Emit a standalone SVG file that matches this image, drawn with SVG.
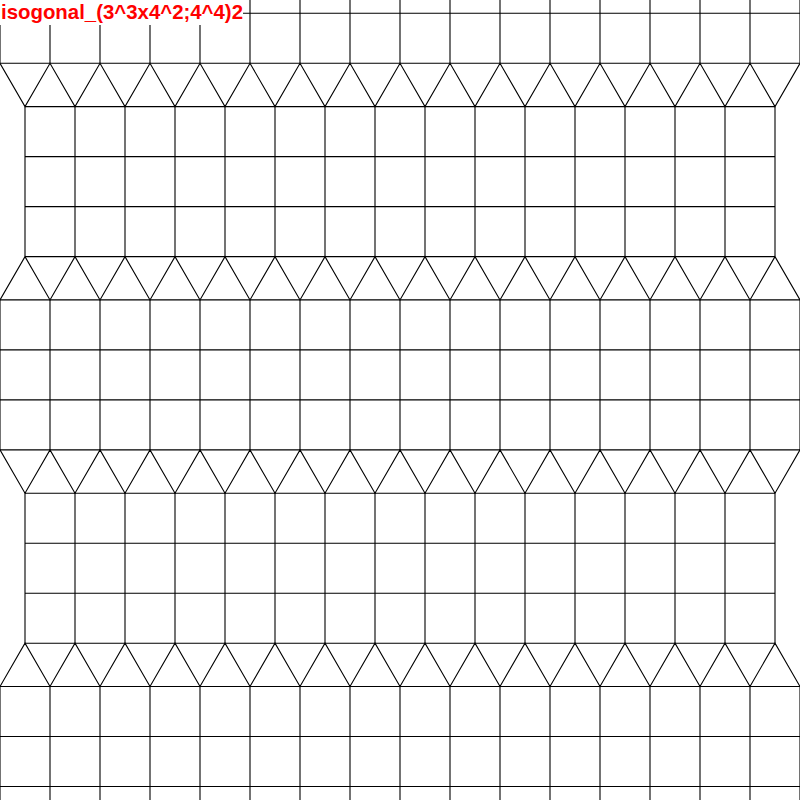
<svg xmlns="http://www.w3.org/2000/svg" xmlns:xlink="http://www.w3.org/1999/xlink" width="800" height="800" viewBox="0 0 800 800">
  <style>
    .ln { fill: none; stroke: #000; stroke-width: 1.1; }
    .title { font-family: "Liberation Sans", Arial, sans-serif; font-weight: bold; font-size: 20.4px; fill: #ff0000; }
  </style>
  <defs>
    <path id="blockA" class="ln" d="M0 0H800M0 50H800M0 100H800M0 150H800M0 0V150M50 0V150M100 0V150M150 0V150M200 0V150M250 0V150M300 0V150M350 0V150M400 0V150M450 0V150M500 0V150M550 0V150M600 0V150M650 0V150M700 0V150M750 0V150M800 0V150"/>
    <path id="blockB" class="ln" d="M25 0H775M25 50H775M25 100H775M25 150H775M25 0V150M75 0V150M125 0V150M175 0V150M225 0V150M275 0V150M325 0V150M375 0V150M425 0V150M475 0V150M525 0V150M575 0V150M625 0V150M675 0V150M725 0V150M775 0V150"/>
    <path id="zigA" class="ln" d="M0 0l25 43.3l25 -43.3l25 43.3l25 -43.3l25 43.3l25 -43.3l25 43.3l25 -43.3l25 43.3l25 -43.3l25 43.3l25 -43.3l25 43.3l25 -43.3l25 43.3l25 -43.3l25 43.3l25 -43.3l25 43.3l25 -43.3l25 43.3l25 -43.3l25 43.3l25 -43.3l25 43.3l25 -43.3l25 43.3l25 -43.3l25 43.3l25 -43.3l25 43.3l25 -43.3"/>
    <path id="zigB" class="ln" d="M0 43.3l25 -43.3l25 43.3l25 -43.3l25 43.3l25 -43.3l25 43.3l25 -43.3l25 43.3l25 -43.3l25 43.3l25 -43.3l25 43.3l25 -43.3l25 43.3l25 -43.3l25 43.3l25 -43.3l25 43.3l25 -43.3l25 43.3l25 -43.3l25 43.3l25 -43.3l25 43.3l25 -43.3l25 43.3l25 -43.3l25 43.3l25 -43.3l25 43.3l25 -43.3l25 43.3"/>
  </defs>
  <rect width="800" height="800" fill="#fff"/>
  <g id="tiling">
    <use xlink:href="#blockA" y="-86.7"/>
    <use xlink:href="#zigA" y="63.3"/>
    <use xlink:href="#blockB" y="106.6"/>
    <use xlink:href="#zigB" y="256.6"/>
    <use xlink:href="#blockA" y="299.9"/>
    <use xlink:href="#zigA" y="449.9"/>
    <use xlink:href="#blockB" y="493.2"/>
    <use xlink:href="#zigB" y="643.2"/>
    <use xlink:href="#blockA" y="686.5"/>
  </g>
  <g id="title">
    <rect x="0" y="0" width="243" height="25" fill="#fff"/>
    <text class="title" x="1" y="19">isogonal_(3^3x4^2;4^4)2</text>
  </g>
</svg>
